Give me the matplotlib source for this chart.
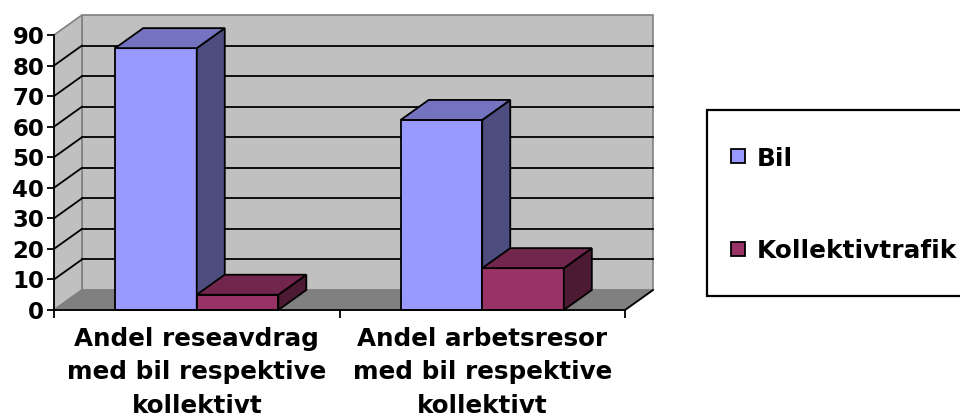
import matplotlib
matplotlib.use("Agg")
import matplotlib.pyplot as plt
from matplotlib.patches import Polygon, Rectangle
import numpy as np

categories = ["Andel reseavdrag\nmed bil respektive\nkollektivt",
              "Andel arbetsresor\nmed bil respektive\nkollektivt"]
series_names = ["Bil", "Kollektivtrafik"]
bil = [85.7, 62.2]
kollektiv = [5.0, 13.7]
yticks = [0, 10, 20, 30, 40, 50, 60, 70, 80, 90]

front_colors = ["#9999FF", "#993366"]
top_colors = ["#7373BF", "#73264D"]
side_colors = ["#4D4D80", "#4D1A33"]

W, H = 960, 416
fig = plt.figure(figsize=(W / 100, H / 100), dpi=100)
fig.patch.set_facecolor("white")

# axes placement in pixels
ax_l, ax_r, ax_b, ax_t = 54, 625, 310, 35
ax = fig.add_axes([ax_l / W, (H - ax_b) / H, (ax_r - ax_l) / W, (ax_b - ax_t) / H])
ax.set_xlim(0, 2)
ax.set_ylim(0, 90)
ax.patch.set_visible(False)

FONT = "DejaVu Sans"
ymax = 90
# depth offset in data units
dx = 28 / ((ax_r - ax_l) / 2)
dy = 20 / ((ax_b - ax_t) / ymax)
ncat = len(categories)

wallc = "#C0C0C0"
floorc = "#808080"
edgec = "#808080"

# back wall
ax.add_patch(Polygon([(dx, dy), (ncat + dx, dy), (ncat + dx, ymax + dy), (dx, ymax + dy)],
                     closed=True, facecolor=wallc, edgecolor=edgec, lw=1.2, clip_on=False, zorder=0))
# side wall
ax.add_patch(Polygon([(0, 0), (dx, dy), (dx, ymax + dy), (0, ymax)],
                     closed=True, facecolor=wallc, edgecolor=edgec, lw=1.2, clip_on=False, zorder=0))
# floor
ax.add_patch(Polygon([(0, 0), (ncat, 0), (ncat + dx, dy), (dx, dy)],
                     closed=True, facecolor=floorc, edgecolor=edgec, lw=1.2, clip_on=False, zorder=0.5))
ax.plot([ncat, ncat + dx], [0, dy], color="black", lw=1.3, clip_on=False, zorder=0.6)

# gridlines
for v in yticks[1:-1]:
    ax.plot([dx, ncat + dx], [v + dy, v + dy], color="black", lw=1.3, clip_on=False, zorder=0.7)
    ax.plot([0, dx], [v, v + dy], color="black", lw=1.3, clip_on=False, zorder=0.7)

# bars
gap = 1.5
w = 1 / (len(series_names) + gap)
x = np.arange(ncat) + 0.5
for si, vals in enumerate([bil, kollektiv]):
    lefts = x - w + si * w
    ax.bar(lefts, vals, width=w, align="edge", color=front_colors[si], edgecolor="black",
           lw=1.3, zorder=3 + si, clip_on=False, label=series_names[si])
    for xl, v in zip(lefts, vals):
        top = Polygon([(xl, v), (xl + w, v), (xl + w + dx, v + dy), (xl + dx, v + dy)], closed=True,
                      facecolor=top_colors[si], edgecolor="black", lw=1.3, clip_on=False, zorder=3 + si)
        side = Polygon([(xl + w, 0), (xl + w + dx, dy), (xl + w + dx, v + dy), (xl + w, v)], closed=True,
                       facecolor=side_colors[si], edgecolor="black", lw=1.3, clip_on=False, zorder=3 + si)
        ax.add_patch(side)
        ax.add_patch(top)

# axes lines and ticks
for s in ["top", "right"]:
    ax.spines[s].set_visible(False)
for s in ["left", "bottom"]:
    ax.spines[s].set_color("black")
    ax.spines[s].set_linewidth(1.3)
    ax.spines[s].set_zorder(10)

ax.set_yticks(yticks)
ax.set_yticklabels([str(t) for t in yticks], fontfamily=FONT, fontweight="bold", fontsize=16.5)
ax.tick_params(axis="y", direction="out", length=5, width=1.3, pad=2, color="black")

ax.set_xticks(x)
ax.set_xticklabels(categories, fontfamily=FONT, fontweight="bold", fontsize=17.7, linespacing=1.48)
ax.tick_params(axis="x", which="major", length=0, pad=12.5)
ax.set_xticks(np.arange(ncat + 1), minor=True)
ax.tick_params(axis="x", which="minor", direction="out", length=6, width=1.3, color="black")

# legend (manual, in pixel coordinates)
def fx(px):
    return px / W

def fy(py):
    return (H - py) / H

fig.patches.append(Rectangle((fx(707), fy(296)), fx(962) - fx(707), fy(110) - fy(296),
                             transform=fig.transFigure, facecolor="white", edgecolor="black",
                             lw=1.6, clip_on=False))
leg_y = [156, 249]
for si, name in enumerate(series_names):
    fig.patches.append(Rectangle((fx(731), fy(leg_y[si] + 7)), fx(14), 14 / H,
                                 transform=fig.transFigure, facecolor=front_colors[si],
                                 edgecolor="black", lw=1.3))
    fig.text(fx(757), fy(leg_y[si]), name, fontfamily=FONT, fontweight="bold", fontsize=17.8,
             va="center_baseline", ha="left")

fig.savefig("out.png", dpi=100, facecolor="white")
